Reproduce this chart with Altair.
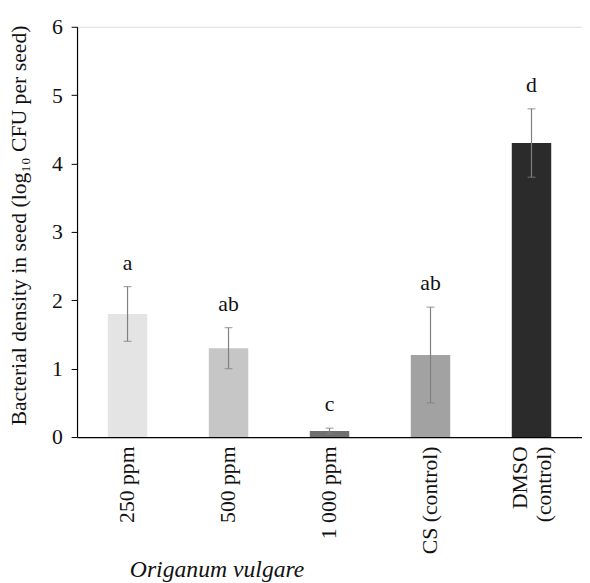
import altair as alt
import pandas as pd

categories = ["250 ppm", "500 ppm", "1 000 ppm", "CS (control)", "DMSO (control)"]
means = [1.8, 1.3, 0.09, 1.2, 4.3]
errors = [0.4, 0.3, 0.04, 0.7, 0.5]
letters = ["a", "ab", "c", "ab", "d"]
fills = ["#e4e4e4", "#c6c6c6", "#6f6f6f", "#a2a2a2", "#2b2b2b"]

df = pd.DataFrame({
    "cat": categories,
    "mean": means,
    "lo": [m - e for m, e in zip(means, errors)],
    "hi": [m + e for m, e in zip(means, errors)],
    "letter": letters,
})

FONT = "Liberation Serif"
INK = "#111111"

x = alt.X(
    "cat:N",
    sort=categories,
    scale=alt.Scale(paddingInner=0, paddingOuter=0),
    axis=alt.Axis(
        title=None,
        labelAngle=-90,
        labelFontSize=22,
        labelFont=FONT,
        labelColor=INK,
        labelPadding=9,
        labelLineHeight=25,
        labelOffset={"condition": {"test": "datum.value == 'DMSO (control)'", "value": -12}, "value": 0},
        labelExpr="datum.value == 'DMSO (control)' ? ['DMSO', '(control)'] : datum.value",
        ticks=False,
        domainColor="#000000",
        domainWidth=1.2,
    ),
)

y_axis = alt.Axis(
    title="Bacterial density in seed (log₁₀ CFU per seed)",
    titleFont=FONT,
    titleFontSize=22,
    titleFontWeight="normal",
    titleColor=INK,
    titleAngle=-90,
    titleX=-59,
    titleY=201,
    titleAlign="center",
    titleBaseline="middle",
    values=[0, 1, 2, 3, 4, 5, 6],
    format="d",
    labelFont=FONT,
    labelFontSize=22,
    labelColor=INK,
    labelPadding=9,
    tickSize=6,
    tickColor="#000000",
    domainColor="#000000",
    domainWidth=1.2,
    grid=False,
)

base = alt.Chart(df)

bars = base.mark_bar(size=40).encode(
    x=x,
    y=alt.Y("mean:Q", scale=alt.Scale(domain=[0, 6], nice=False), axis=y_axis),
    color=alt.Color("cat:N", sort=categories, scale=alt.Scale(domain=categories, range=fills), legend=None),
)

err = base.mark_rule(color="#808080", strokeWidth=1.2).encode(
    x=alt.X("cat:N", sort=categories),
    y="lo:Q",
    y2="hi:Q",
)

cap_hi = base.mark_tick(color="#808080", size=8, thickness=1.2, orient="horizontal").encode(
    x=alt.X("cat:N", sort=categories),
    y="hi:Q",
)
cap_lo = base.mark_tick(color="#808080", size=8, thickness=1.2, orient="horizontal").encode(
    x=alt.X("cat:N", sort=categories),
    y="lo:Q",
)

labels = base.mark_text(font=FONT, fontSize=22, color=INK, baseline="alphabetic", dy=-17).encode(
    x=alt.X("cat:N", sort=categories),
    y="hi:Q",
    text="letter:N",
)

species = alt.Chart(pd.DataFrame({"t": ["Origanum vulgare"]})).mark_text(
    font=FONT, fontSize=24, fontStyle="italic", color=INK, baseline="middle", align="center"
).encode(
    x=alt.value(142),
    y=alt.value(551),
    text="t:N",
)

chart = alt.layer(bars, err, cap_hi, cap_lo, labels, species).properties(
    width=512,
    height=416,
    autosize=alt.AutoSizeParams(type="none"),
    padding={"left": 70, "top": 15, "right": 0, "bottom": 148},
).configure_view(stroke=None).configure(background="white")

chart.save("out.html", embed_options={"renderer": "svg", "actions": False})
